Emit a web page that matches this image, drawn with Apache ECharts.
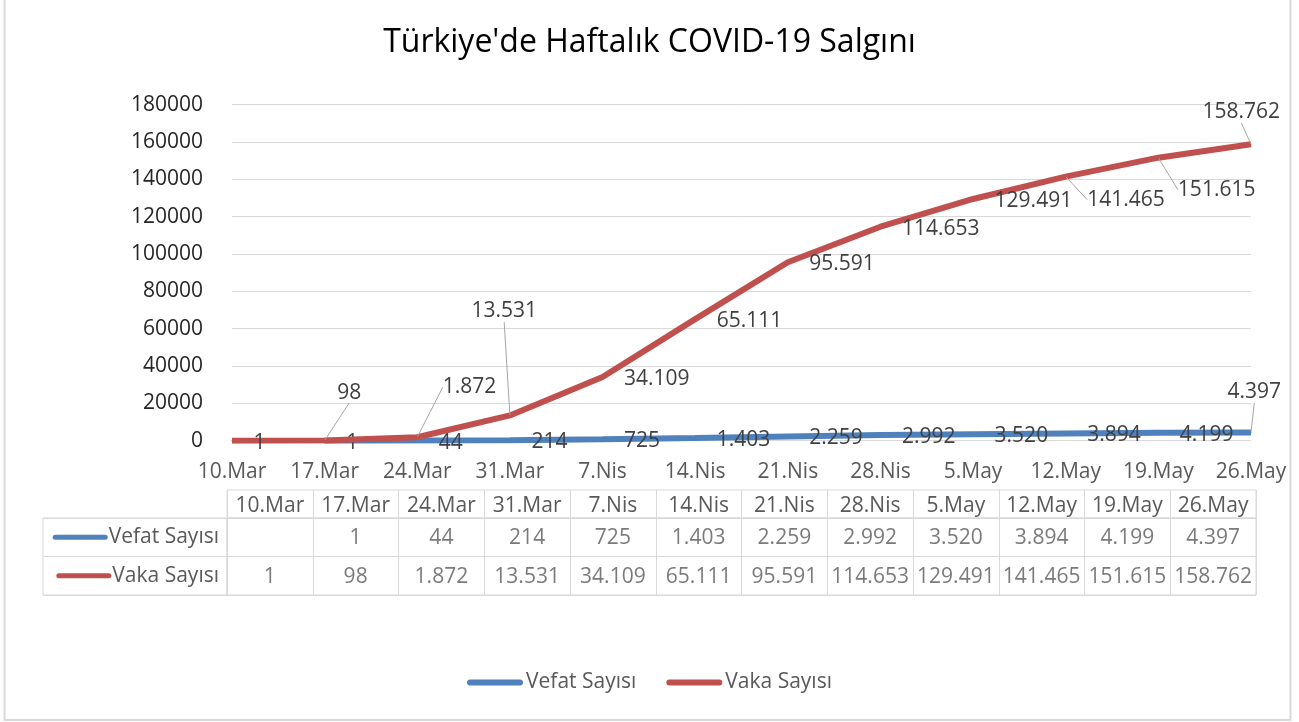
<!DOCTYPE html>
<html>
<head>
<meta charset="utf-8">
<script src="https://cdn.jsdelivr.net/npm/echarts@6/dist/echarts.min.js"></script>
<style>
html,body{margin:0;padding:0;background:#fff;}
#chart{width:1299px;height:722px;}
</style>
</head>
<body>
<div id="chart"></div>
<script>
// ---- data ----
const titleText = "Türkiye'de Haftalık COVID-19 Salgını";
const categories = ['10.Mar','17.Mar','24.Mar','31.Mar','7.Nis','14.Nis','21.Nis','28.Nis','5.May','12.May','19.May','26.May'];
const seriesNames = ['Vefat Sayısı','Vaka Sayısı'];
const vefat = [null,1,44,214,725,1403,2259,2992,3520,3894,4199,4397];
const vaka = [1,98,1872,13531,34109,65111,95591,114653,129491,141465,151615,158762];
const yMin = 0, yMax = 180000, yStep = 20000;

// ---- layout (label nudges, px) ----
const vefatShift = {11:[-45,-40]};
const vakaShift = {1:[-9,-48],2:[4,-50],3:[-60,-104],9:[0,23],10:[-2,32],11:[-70,-32]};

const FONT = 'Open Sans';
const FS = 21;
const colors = ['#4f81bd','#c0504d'];
const gridColor = '#d9d9d9';
const fmt = v => (v === null || v === undefined) ? '' : String(v).replace(/\B(?=(\d{3})+(?!\d))/g, '.');

function lineData(arr, shift){
  return arr.map((v,i) => shift[i] ? {value:v, labelLine:{show:true}} : v);
}
function layoutFn(shift){
  return p => { const s = shift[p.dataIndex]; return s ? {dx:s[0], dy:s[1]} : {dy:2}; };
}
const stadium = 'path://M3,0 H53 A3,3 0 0 1 53,6 H3 A3,3 0 0 1 3,0 Z';

const chart = echarts.init(document.getElementById('chart'), null, {renderer:'canvas'});
const lineLabel = {show:true, position:'right', distance:21, fontFamily:FONT, fontSize:FS, color:'#404040',
  formatter: p => fmt(p.value)};
const guide = {lineStyle:{color:'#a6a6a6', width:1}};

chart.setOption({
  backgroundColor:'#fff',
  textStyle:{fontFamily:FONT},
  title:{text:titleText, left:'center', top:22, textStyle:{fontFamily:FONT, fontSize:32, fontWeight:'normal', color:'#000'}},
  legend:{data:seriesNames, bottom:24, left:'center', icon:stadium, itemWidth:56, itemHeight:6, itemGap:30,
    textStyle:{fontFamily:FONT, fontSize:FS, color:'#595959', padding:[0,0,0,-2]}},
  graphic:[{type:'rect', shape:{x:4.5, y:-5, width:1286, height:725}, style:{fill:'none', stroke:gridColor, lineWidth:2}, silent:true, z:-1}],
  grid:[
    {left:232, right:48, top:104.7, height:336},
    {left:227, width:1029, top:490, height:28, show:true, borderColor:gridColor, borderWidth:1},
    {left:227, width:1029, top:518, height:77, show:true, borderColor:gridColor, borderWidth:1},
    {left:43, width:184, top:518, height:77, show:true, borderColor:gridColor, borderWidth:1}
  ],
  xAxis:[
    {gridIndex:0, type:'category', data:categories, boundaryGap:false,
      axisLine:{lineStyle:{color:gridColor}}, axisTick:{show:false},
      axisLabel:{fontFamily:FONT, fontSize:FS, color:'#595959', margin:21, interval:0}},
    {gridIndex:1, type:'category', data:categories, boundaryGap:true,
      axisLine:{show:false}, axisTick:{show:false}, axisLabel:{show:false},
      splitLine:{show:true, interval:0, lineStyle:{color:gridColor}}},
    {gridIndex:2, type:'category', data:categories, boundaryGap:true, position:'top',
      axisLine:{show:false}, axisTick:{show:false},
      axisLabel:{fontFamily:FONT, fontSize:FS, color:'#595959', margin:1, interval:0},
      splitLine:{show:true, interval:0, lineStyle:{color:gridColor}}},
    {gridIndex:3, type:'value', min:0, max:1, show:false}
  ],
  yAxis:[
    {gridIndex:0, type:'value', min:yMin, max:yMax, interval:yStep,
      axisLine:{show:false}, axisTick:{show:false},
      axisLabel:{fontFamily:FONT, fontSize:FS, color:'#262626', margin:29, formatter:v=>String(v)},
      splitLine:{lineStyle:{color:gridColor}}},
    {gridIndex:1, type:'category', data:['h'], show:false},
    {gridIndex:2, type:'category', data:seriesNames, inverse:true,
      axisLine:{show:false}, axisTick:{show:false},
      axisLabel:{margin:8, interval:0, formatter:(v,i)=>'{b'+i+'|}{t|'+v+'}',
        rich:{
          b0:{width:55, height:5, backgroundColor:colors[0], borderRadius:3},
          b1:{width:55, height:5, backgroundColor:colors[1], borderRadius:3},
          t:{fontFamily:FONT, fontSize:FS, color:'#595959', padding:[0,0,0,1]}
        }},
      splitLine:{show:true, lineStyle:{color:gridColor}}},
    {gridIndex:3, type:'category', data:seriesNames, inverse:true,
      axisLine:{show:false}, axisTick:{show:false}, axisLabel:{show:false},
      splitLine:{show:true, lineStyle:{color:gridColor}}}
  ],
  series:[
    {name:seriesNames[0], type:'line', xAxisIndex:0, yAxisIndex:0, data:lineData(vefat, vefatShift),
      symbol:'circle', symbolSize:1, lineStyle:{width:6, color:colors[0]}, itemStyle:{color:colors[0]},
      label:lineLabel, labelLine:guide, labelLayout:layoutFn(vefatShift), z:2},
    {name:seriesNames[1], type:'line', xAxisIndex:0, yAxisIndex:0, data:lineData(vaka, vakaShift),
      symbol:'circle', symbolSize:1, lineStyle:{width:6, color:colors[1]}, itemStyle:{color:colors[1]},
      label:lineLabel, labelLine:guide, labelLayout:layoutFn(vakaShift), z:3},
    {name:'tVefat', type:'scatter', xAxisIndex:2, yAxisIndex:2, symbolSize:0, silent:true,
      data:vefat.map((v,i)=>[i,0,v]),
      label:{show:true, position:'inside', offset:[0,1], fontFamily:FONT, fontSize:FS, color:'#595959', formatter:p=>fmt(p.value[2])}},
    {name:'tVaka', type:'scatter', xAxisIndex:2, yAxisIndex:2, symbolSize:0, silent:true,
      data:vaka.map((v,i)=>[i,1,v]),
      label:{show:true, position:'inside', offset:[0,1], fontFamily:FONT, fontSize:FS, color:'#595959', formatter:p=>fmt(p.value[2])}}
  ]
});
</script>
</body>
</html>
